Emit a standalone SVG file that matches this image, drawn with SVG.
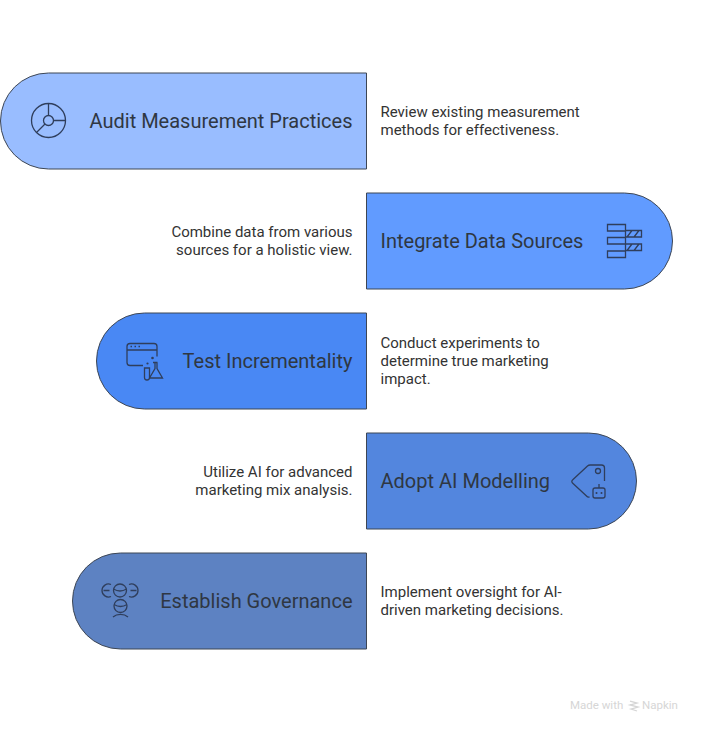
<svg xmlns="http://www.w3.org/2000/svg" width="703" height="733" viewBox="0 0 703 733">
<style>
.n{stroke:#3d4654;stroke-width:1}
.t{font-family:Roboto,"Liberation Sans",sans-serif;font-size:20px;fill:#2f3742}
.d{font-family:Roboto,"Liberation Sans",sans-serif;font-size:15px;fill:#333333}
.e{text-anchor:end}
.i{fill:none;stroke:#2f3e5c;stroke-width:1.3}
.w{font-family:Roboto,"Liberation Sans",sans-serif;font-size:11.5px;fill:#d6d6d6}
</style>
<rect width="703" height="733" fill="#fff"/>
<g id="node-audit">
<path class="n" fill="#99bdff" d="M366.500 73H48.500a48 48 0 0 0 0 96H366.500Z"/>
<circle class="i" cx="48.500" cy="120.500" r="17"/><circle class="i" cx="48.500" cy="120.500" r="5"/>
<path class="i" d="M48.500 103.500V115.500M53.500 120.500H65.500M45 124L36.500 132.500"/>
<text class="t" x="352.500" y="127.500" text-anchor="end">Audit Measurement Practices</text>
<text class="d" x="380.500" y="117">Review existing measurement</text>
<text class="d" x="380.500" y="135">methods for effectiveness.</text>
</g>
<g id="node-integrate">
<path class="n" fill="#619bff" d="M366.500 193H624.500a48 48 0 0 1 0 96H366.500Z"/>
<path class="i" d="M607.500 224.500h18v6.500h-18zM607.500 237.500h18v6.500h-18zM607.500 251h18v6.500h-18zM625.500 230.500h16v6.500h-16zM625.500 244h16v6.500h-16zM627 237l5-6.500M634 237l5-6.500M627 250.500l5-6.500M634 250.500l5-6.500"/>
<text class="t" x="380.500" y="247.500">Integrate Data Sources</text>
<text class="d e" x="352.500" y="237">Combine data from various</text>
<text class="d e" x="352.500" y="255">sources for a holistic view.</text>
</g>
<g id="node-test">
<path class="n" fill="#4988f4" d="M366.500 313H144.500a48 48 0 0 0 0 96H366.500Z"/>
<path class="i" d="M143 365.500h-13a3 3 0 0 1-3-3V346.500a3 3 0 0 1 3-3h24a3 3 0 0 1 3 3v10M127 350h30M144.500 368h5v9.500a2.500 2.500 0 0 1-5 0zM153 362.500h4.500M155 362.500v6l-5.500 9.500h13l-5.500-9.500v-6"/>
<path d="M130.500 346.500h1.500M134.500 346.500h1.500M138.500 346.500h1.500" stroke="#2f3e5c" stroke-width="1.500"/>
<circle cx="152.500" cy="358" r="1.300" fill="#2f3e5c"/><circle cx="147.500" cy="363.500" r="1.100" fill="#2f3e5c"/>
<text class="t" x="352.500" y="367.500" text-anchor="end">Test Incrementality</text>
<text class="d" x="380.500" y="348">Conduct experiments to</text>
<text class="d" x="380.500" y="366">determine true marketing</text>
<text class="d" x="380.500" y="384">impact.</text>
</g>
<g id="node-adopt">
<path class="n" fill="#5386de" d="M366.500 433H588.500a48 48 0 0 1 0 96H366.500Z"/>
<path class="i" d="M604.500 481v-13a3 3 0 0 0-3-3h-11a4 4 0 0 0-3 1l-15 14a2 2 0 0 0 0 3l14 13a3 3 0 0 0 3 1"/>
<circle class="i" cx="598" cy="471" r="2.500"/>
<rect class="i" x="593" y="488" width="12" height="10" rx="2"/>
<path class="i" d="M599 488v-4"/>
<circle cx="596.500" cy="493" r="1" fill="#2f3e5c"/><circle cx="601.500" cy="493" r="1" fill="#2f3e5c"/>
<text class="t" x="380.500" y="487.500">Adopt AI Modelling</text>
<text class="d e" x="352.500" y="477">Utilize AI for advanced</text>
<text class="d e" x="352.500" y="495">marketing mix analysis.</text>
</g>
<g id="node-govern">
<path class="n" fill="#5d82c2" d="M366.500 553H120.500a48 48 0 0 0 0 96H366.500Z"/>
<circle class="i" cx="120" cy="590.500" r="6.500"/><path class="i" d="M113.500 589c4 2.500 9 2.500 13 0"/>
<circle class="i" cx="120.500" cy="606" r="6.500"/><path class="i" d="M114 604.500c4 2.500 9 2.500 13 0"/>
<path class="i" d="M111 584.500a6.500 6.500 0 1 0 0 12M103.500 590.500h6M129 584.500a6.500 6.500 0 1 1 0 12M130.500 590.500h6M113 617c4-3.500 11-3.500 15 0"/>
<text class="t" x="352.500" y="607.500" text-anchor="end">Establish Governance</text>
<text class="d" x="380.500" y="596.500">Implement oversight for AI-</text>
<text class="d" x="380.500" y="614.500">driven marketing decisions.</text>
</g>
<g id="connectors"/>
<g id="watermark">
<text class="w" x="570" y="709">Made with</text>
<path d="M630 701l7 2-7 2 8 2-7 2 6 2" fill="none" stroke="#d6d6d6" stroke-width="1.300"/>
<text class="w" x="642" y="709">Napkin</text>
</g>
</svg>
